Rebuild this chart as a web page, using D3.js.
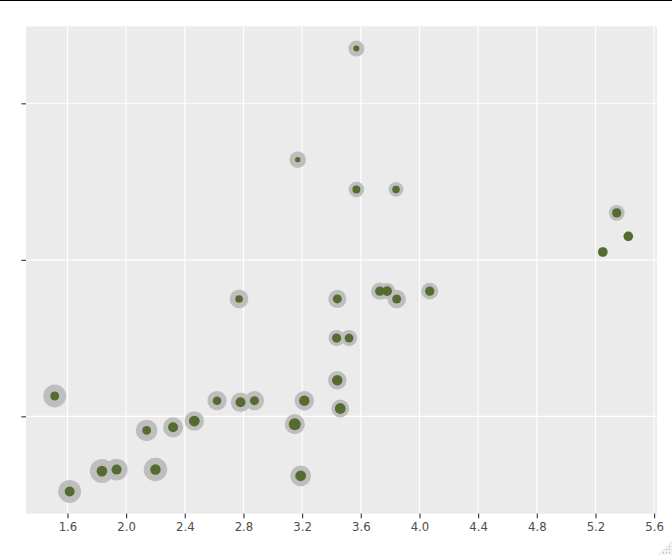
<!DOCTYPE html>
<html lang="en">
<head>
    <title>wt vs hp</title>
    <meta charset="UTF-8">
    <script src="https://d3js.org/d3.v7.min.js"></script>
    <style>
        body {
            margin: 0;
            padding: 0;
            background: #fff;
        }

        #chart {
            display: block;
        }
    </style>
</head>
<body>
<svg id="chart" width="672" height="555" xmlns="http://www.w3.org/2000/svg"></svg>
<script>
    // mtcars: weight, horsepower, mpg (outer ring size), qsec (inner dot size)
    var wt = [2.62, 2.875, 2.32, 3.215, 3.44, 3.46, 3.57, 3.19, 3.15, 3.44, 3.44, 4.07, 3.73, 3.78, 5.25, 5.424,
        5.345, 2.2, 1.615, 1.835, 2.465, 3.52, 3.435, 3.84, 3.845, 1.935, 2.14, 1.513, 3.17, 2.77, 3.57, 2.78];
    var hp = [110, 110, 93, 110, 175, 105, 245, 62, 95, 123, 123, 180, 180, 180, 205, 215,
        230, 66, 52, 65, 97, 150, 150, 245, 175, 66, 91, 113, 264, 175, 335, 109];
    var mpg = [21, 21, 22.8, 21.4, 18.7, 18.1, 14.3, 24.4, 22.8, 19.2, 17.8, 16.4, 17.3, 15.2, 10.4, 10.4,
        14.7, 32.4, 30.4, 33.9, 21.5, 15.5, 15.2, 13.3, 19.2, 27.3, 26, 30.4, 15.8, 19.7, 15, 21.4];
    var qsec = [16.46, 17.02, 18.61, 19.44, 17.02, 20.22, 15.84, 20, 22.9, 18.3, 18.9, 17.4, 17.6, 18, 17.98, 17.82,
        17.42, 19.47, 18.52, 19.9, 20.01, 16.87, 17.3, 15.41, 17.05, 18.9, 16.7, 16.9, 14.5, 15.5, 14.6, 18.6];
    var xTicks = [1.6, 2.0, 2.4, 2.8, 3.2, 3.6, 4.0, 4.4, 4.8, 5.2, 5.6];
    var yTicks = [100, 200, 300];

    (function () {
        var svg = d3.select('#chart');
        var panel = {left: 26, right: 657, top: 26.4, bottom: 513.6};

        function expand(values) {
            var ext = d3.extent(values);
            var pad = (ext[1] - ext[0]) * 0.05;
            return [ext[0] - pad, ext[1] + pad];
        }

        var x = d3.scaleLinear().domain(expand(wt)).range([panel.left, panel.right]);
        var y = d3.scaleLinear().domain(expand(hp)).range([panel.bottom, panel.top]);

        // ggplot-like area scale: d = lo + (hi - lo) * sqrt(t)
        var outerT = d3.scaleLinear().domain(d3.extent(mpg)).range([0, 1]);
        var outerD = d3.scaleSqrt().domain([0, 1]).range([9.7, 24]);
        var innerT = d3.scaleLinear().domain(d3.extent(qsec)).range([0, 1]);
        var innerD = d3.scaleSqrt().domain([0, 1]).range([5.3, 12]);

        var rows = wt.map(function (w, i) {
            return {wt: w, hp: hp[i], mpg: mpg[i], qsec: qsec[i]};
        });

        // window top border
        svg.append('line')
            .attr('x1', 0).attr('x2', 672)
            .attr('y1', 0.5).attr('y2', 0.5)
            .attr('stroke', '#000').attr('stroke-width', 1.2);

        svg.append('rect')
            .attr('x', panel.left).attr('y', panel.top)
            .attr('width', panel.right - panel.left)
            .attr('height', panel.bottom - panel.top)
            .attr('fill', '#ebebeb');

        var grid = svg.append('g').attr('stroke', '#fff').attr('stroke-width', 1.1);
        grid.selectAll('line.vx')
            .data(xTicks)
            .enter().append('line')
            .attr('x1', function (d) { return x(d); })
            .attr('x2', function (d) { return x(d); })
            .attr('y1', panel.top).attr('y2', panel.bottom);
        grid.selectAll('line.hy')
            .data(yTicks)
            .enter().append('line')
            .attr('y1', function (d) { return y(d); })
            .attr('y2', function (d) { return y(d); })
            .attr('x1', panel.left).attr('x2', panel.right);

        var xAxis = d3.axisBottom(x)
            .tickValues(xTicks)
            .tickSize(4.6)
            .tickPadding(4)
            .tickFormat(d3.format('.1f'));
        var gx = svg.append('g')
            .attr('transform', 'translate(0,' + panel.bottom + ')')
            .call(xAxis);
        gx.select('.domain').remove();
        gx.selectAll('.tick line').attr('stroke', '#333').attr('stroke-width', 1.1);
        gx.selectAll('.tick text')
            .attr('fill', '#4d4d4d')
            .attr('font-family', '"DejaVu Sans", Verdana, sans-serif')
            .attr('font-size', '11.7px');

        var yAxis = d3.axisLeft(y)
            .tickValues(yTicks)
            .tickSize(4.6)
            .tickFormat('');
        var gy = svg.append('g')
            .attr('transform', 'translate(' + panel.left + ',0)')
            .call(yAxis);
        gy.select('.domain').remove();
        gy.selectAll('.tick line').attr('stroke', '#333').attr('stroke-width', 1.1);

        svg.append('g')
            .selectAll('circle')
            .data(rows)
            .enter().append('circle')
            .attr('cx', function (d) { return x(d.wt); })
            .attr('cy', function (d) { return y(d.hp); })
            .attr('r', function (d) { return outerD(outerT(d.mpg)) / 2; })
            .attr('fill', '#bebebe');

        svg.append('g')
            .selectAll('circle')
            .data(rows)
            .enter().append('circle')
            .attr('cx', function (d) { return x(d.wt); })
            .attr('cy', function (d) { return y(d.hp); })
            .attr('r', function (d) { return innerD(innerT(d.qsec)) / 2; })
            .attr('fill', '#556b2f');

        // resize grip in the corner
        svg.append('path')
            .attr('d', 'M672,540 L672,555 L657,555 Z')
            .attr('fill', '#f2f2f2');
        var grip = svg.append('g').attr('fill', '#b0b0b0');
        [[669, 546], [669, 549], [666, 549], [669, 552], [666, 552], [663, 552]].forEach(function (p) {
            grip.append('rect').attr('x', p[0]).attr('y', p[1]).attr('width', 1).attr('height', 1);
        });
    })();
</script>
</body>
</html>
